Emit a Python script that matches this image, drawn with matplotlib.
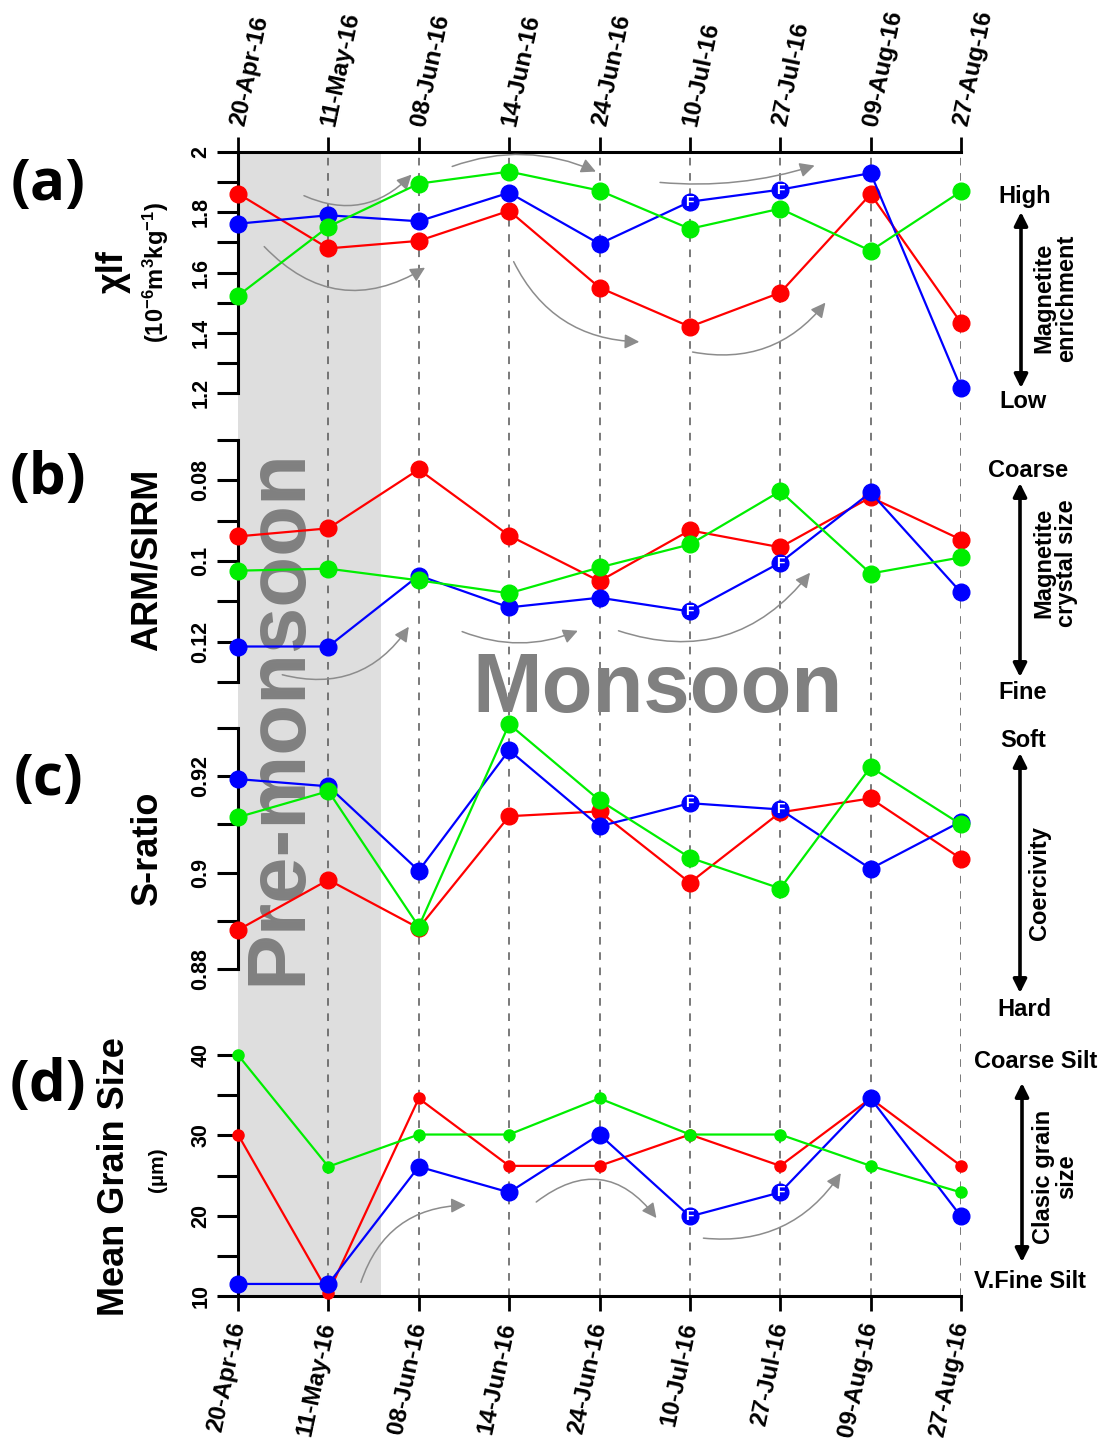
import matplotlib
matplotlib.use("Agg")
import matplotlib.pyplot as plt
from matplotlib.ticker import FixedLocator, FuncFormatter

plt.rcParams['font.family'] = ['Liberation Sans', 'DejaVu Sans']
plt.rcParams['font.weight'] = 'bold'
plt.rcParams['mathtext.default'] = 'regular'

W, H = 1105, 1446

# --- datos ---
fechas = ['20-Apr-16', '11-May-16', '08-Jun-16', '14-Jun-16', '24-Jun-16',
          '10-Jul-16', '27-Jul-16', '09-Aug-16', '27-Aug-16']
x = list(range(len(fechas)))

xlf_rojo = [1.862, 1.68, 1.705, 1.805, 1.55, 1.42, 1.533, 1.86, 1.433]
xlf_azul = [1.762, 1.79, 1.77, 1.865, 1.695, 1.835, 1.875, 1.93, 1.217]
xlf_verde = [1.523, 1.752, 1.895, 1.935, 1.872, 1.745, 1.812, 1.672, 1.869]

arm_rojo = [0.0939, 0.0919, 0.0773, 0.0937, 0.105, 0.0924, 0.0966, 0.0842, 0.0947]
arm_azul = [0.1212, 0.1212, 0.1036, 0.1115, 0.1091, 0.1125, 0.1004, 0.083, 0.1078]
arm_verde = [0.1024, 0.1019, 0.1048, 0.108, 0.1016, 0.0959, 0.0827, 0.1031, 0.0991]

s_rojo = [0.8881, 0.8985, 0.8885, 0.9117, 0.9127, 0.8979, 0.9125, 0.9154, 0.9029]
s_azul = [0.9194, 0.9179, 0.9004, 0.9254, 0.9096, 0.9144, 0.9131, 0.9008, 0.9106]
s_verde = [0.9115, 0.9169, 0.8888, 0.9308, 0.915, 0.9031, 0.8967, 0.9219, 0.91]

mgs_rojo = [30.1, 10.4, 34.6, 26.2, 26.2, 30.1, 26.2, 34.6, 26.2]
mgs_azul = [11.5, 11.5, 26.1, 22.9, 30.1, 19.9, 22.9, 34.6, 19.9]
mgs_verde = [40, 26.1, 30.1, 30.1, 34.6, 30.1, 30.1, 26.2, 22.9]

puntos_f = [5, 6]          # muestras marcadas con "F" (serie azul)
fin_premonzon = 1.58       # limite de la franja gris (en categorias)

# flechas grises curvas: (inicio, fin, curvatura) en unidades de datos
flechas_a = [((0.73, 1.855), (1.92, 1.925), 0.35),
             ((0.29, 1.686), (2.07, 1.616), 0.4),
             ((2.37, 1.952), (3.96, 1.935), -0.2),
             ((4.67, 1.899), (6.38, 1.955), 0.1),
             ((3.05, 1.636), (4.44, 1.37), 0.3),
             ((5.03, 1.336), (6.50, 1.50), 0.3)]
flechas_b = [((0.49, 0.1282), (1.89, 0.1163), 0.35),
             ((2.48, 0.1175), (3.76, 0.1173), 0.2),
             ((4.21, 0.1173), (6.33, 0.1029), 0.35)]
flechas_d = [((1.36, 11.7), (2.52, 21.3), -0.35),
             ((3.30, 21.7), (4.63, 19.7), -0.5),
             ((5.15, 17.2), (6.67, 25.3), 0.3)]


def fx(px):
    return px / W


def fy(py):
    return 1 - py / H


def rect(top, bottom, left=238, right=961):
    return [fx(left), fy(bottom), (right - left) / W, (bottom - top) / H]


fig = plt.figure(figsize=(W / 100, H / 100), dpi=100)

# Fondo: franja pre-monzon, lineas discontinuas y textos grandes
bg = fig.add_axes(rect(152, 1296))
bg.set_xlim(0, 8)
bg.set_ylim(0, 1)
bg.axvspan(0, fin_premonzon, color='#dedede', lw=0)
for xi in x[1:]:
    bg.axvline(xi, color='#555555', lw=1.1, ls=(0, (5, 5)))
bg.axis('off')
bg.text(fx(278), fy(717), 'Pre-monsoon', transform=fig.transFigure, rotation=90,
        fontsize=60, color='#808080', fontweight='bold', ha='center', va='center')
bg.text(fx(657), fy(690), 'Monsoon', transform=fig.transFigure,
        fontsize=60, color='#808080', fontweight='bold', ha='center', va='center')


def panel(top, bottom, ylim, mayores, menores, serie, tam=(12, 12, 12), flechas=()):
    ax = fig.add_axes(rect(top, bottom))
    ax.patch.set_visible(False)
    ax.set_xlim(0, 8)
    ax.set_ylim(*ylim)
    rojo, azul, verde = serie
    ax.plot(x, rojo, '-o', color='#ff0000', lw=1.6, ms=tam[0], clip_on=False, zorder=3)
    ax.plot(x, azul, '-o', color='#0000ff', lw=1.6, ms=tam[1], clip_on=False, zorder=4)
    ax.plot(x, verde, '-o', color='#00ee00', lw=1.6, ms=tam[2], clip_on=False, zorder=5)
    for i in puntos_f:
        ax.text(x[i], azul[i], 'F', color='white', fontsize=10, fontweight='bold',
                ha='center', va='center', zorder=6, clip_on=False)
    for ini, fin, rad in flechas:
        ax.annotate('', xy=fin, xytext=ini, annotation_clip=False,
                    arrowprops=dict(arrowstyle='-|>', color='#8c8c8c', lw=1.1,
                                    mutation_scale=22, shrinkA=0, shrinkB=0,
                                    connectionstyle=f'arc3,rad={rad}'))
    for s in ['right', 'top', 'bottom']:
        ax.spines[s].set_visible(False)
    ax.spines['left'].set_linewidth(2.2)
    ax.yaxis.set_major_locator(FixedLocator(mayores))
    ax.yaxis.set_minor_locator(FixedLocator(menores))
    ax.yaxis.set_major_formatter(FuncFormatter(lambda v, p: f'{v:g}'))
    ax.tick_params(axis='y', which='both', length=15, width=2.2, direction='out',
                   labelsize=15.5, labelrotation=90, pad=4)
    for lab in ax.get_yticklabels():
        lab.set_va('center')
        lab.set_fontweight('bold')
    ax.set_xticks([])
    return ax


ax_a = panel(152, 393, (1.2, 2.0), [1.2, 1.4, 1.6, 1.8, 2.0],
             [1.3, 1.5, 1.7, 1.9], (xlf_rojo, xlf_azul, xlf_verde), flechas=flechas_a)
ax_b = panel(440, 682, (0.13, 0.07), [0.08, 0.1, 0.12],
             [0.07, 0.09, 0.11, 0.13], (arm_rojo, arm_azul, arm_verde), flechas=flechas_b)
ax_c = panel(728, 969, (0.88, 0.93), [0.88, 0.9, 0.92],
             [0.89, 0.91, 0.93], (s_rojo, s_azul, s_verde))
ax_d = panel(1055, 1296, (10, 40), [10, 20, 30, 40],
             [15, 25, 35], (mgs_rojo, mgs_azul, mgs_verde), tam=(8, 12, 8), flechas=flechas_d)

# eje de fechas arriba (a) y abajo (d), etiquetas inclinadas
ax_a.spines['top'].set_visible(True)
ax_a.spines['top'].set_linewidth(2.2)
ax_a.xaxis.tick_top()
ax_a.set_xticks(x)
ax_a.set_xticklabels(fechas, rotation=78, fontsize=17.5, fontweight='bold',
                     ha='left', va='center', rotation_mode='anchor')
ax_a.tick_params(axis='x', length=11, width=2, pad=8)

ax_d.spines['bottom'].set_visible(True)
ax_d.spines['bottom'].set_linewidth(2.2)
ax_d.set_xticks(x)
ax_d.set_xticklabels(fechas, rotation=78, fontsize=17.5, fontweight='bold',
                     ha='right', va='center', rotation_mode='anchor')
ax_d.tick_params(axis='x', length=11, width=2, pad=8)

# etiquetas de panel y de ejes
for letra, yy in [('(a)', 185), ('(b)', 479), ('(c)', 780), ('(d)', 1086)]:
    fig.text(fx(48), fy(yy), letra, fontsize=42, fontweight='bold', family='Open Sans',
             ha='center', va='center')

fig.text(fx(113), fy(272), 'χlf', rotation=90, fontsize=26, ha='center', va='center')
fig.text(fx(156), fy(272), '(10$^{-6}$m$^{3}$kg$^{-1}$)', rotation=90, fontsize=17,
         ha='center', va='center')
fig.text(fx(147), fy(560), 'ARM/SIRM', rotation=90, fontsize=26, ha='center', va='center')
fig.text(fx(147), fy(848), 'S-ratio', rotation=90, fontsize=26, ha='center', va='center')
fig.text(fx(115), fy(1177), 'Mean Grain Size', rotation=90, fontsize=26, ha='center', va='center')
fig.text(fx(158), fy(1170), '(µm)', rotation=90, fontsize=15, ha='center', va='center')

# indicadores a la derecha
derecha = [('High', 1025, 196, 'Low', 1023, 401, 1021, 212, 388,
            'Magnetite\nenrichment', 1055, 298),
           ('Coarse', 1028, 471, 'Fine', 1023, 692, 1020, 483, 677,
            'Magnetite\ncrystal size', 1055, 563),
           ('Soft', 1023, 741, 'Hard', 1024, 1009, 1020, 753, 993,
            'Coercivity', 1040, 883),
           ('Coarse Silt', 1036, 1062, 'V.Fine Silt', 1030, 1281, 1022, 1083, 1262,
            'Clasic grain\nsize', 1055, 1177)]
for alto, xa, ya, bajo, xb, yb, xf, y1, y2, desc, xd, yd in derecha:
    fig.text(fx(xa), fy(ya), alto, fontsize=17, ha='center', va='center')
    fig.text(fx(xb), fy(yb), bajo, fontsize=17, ha='center', va='center')
    bg.annotate('', xy=(fx(xf), fy(y1)), xytext=(fx(xf), fy(y2)),
                xycoords='figure fraction', textcoords='figure fraction',
                annotation_clip=False,
                arrowprops=dict(arrowstyle='<|-|>', color='black', lw=2.6,
                                mutation_scale=20, shrinkA=0, shrinkB=0))
    fig.text(fx(xd), fy(yd), desc, rotation=90, fontsize=17, ha='center', va='center',
             linespacing=1.0, multialignment='center')

fig.savefig('out.png', dpi=100)
